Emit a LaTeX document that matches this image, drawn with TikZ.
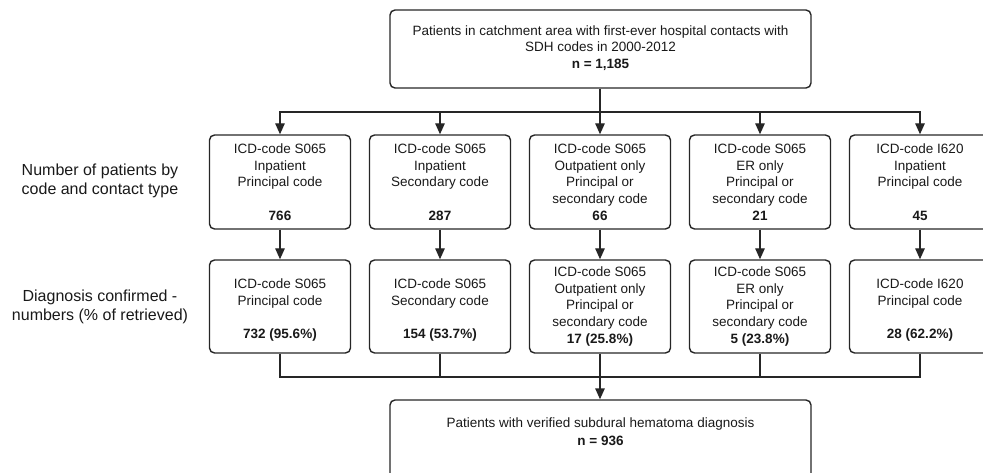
\documentclass[tikz,border=0pt]{standalone}
\usepackage{fontspec}
\setmainfont{Liberation Sans}
\usetikzlibrary{arrows.meta}
\begin{document}
\begin{tikzpicture}[x=1pt,y=-1pt,
  every node/.style={text=black!90},
  box/.style={draw=black!85, line width=1.4pt, rounded corners=5pt,
    minimum width=141pt, minimum height=94pt, align=center, inner sep=0pt,
    font=\fontsize{13.5}{16.7}\selectfont},
  bigbox/.style={draw=black!85, line width=1.4pt, rounded corners=5pt,
    minimum width=421pt, inner sep=0pt},
  btext/.style={align=center, inner sep=0pt, font=\fontsize{13.5}{16.7}\selectfont},
  side/.style={align=center, inner sep=0pt, font=\fontsize{16}{18.5}\selectfont},
  conn/.style={draw=black!85, line width=1.4pt},
  arr/.style={conn, -{Triangle[length=11pt,width=9.5pt]}}
]
\useasboundingbox (0,0) rectangle (983,473);

% top box
\node[bigbox, minimum height=78pt] (top) at (600.5,49) {};
\node[btext] (toptext) at (600.5,48) {Patients in catchment area with first-ever hospital contacts with\\SDH codes in 2000-2012\\\textbf{n = 1,185}};

% side labels
\node[side] (lab1) at (100,181) {Number of patients by\\code and contact type};
\node[side] (lab2) at (100,307) {Diagnosis confirmed -\\numbers (\% of retrieved)};

% row 1
\node[box] (a1) at (280,182) {ICD-code S065\\Inpatient\\Principal code\\~\\\textbf{766}};
\node[box] (a2) at (440,182) {ICD-code S065\\Inpatient\\Secondary code\\~\\\textbf{287}};
\node[box] (a3) at (600,182) {ICD-code S065\\Outpatient only\\Principal or\\secondary code\\\textbf{66}};
\node[box] (a4) at (760,182) {ICD-code S065\\ER only\\Principal or\\secondary code\\\textbf{21}};
\node[box] (a5) at (920,182) {ICD-code I620\\Inpatient\\Principal code\\~\\\textbf{45}};

% row 2
\node[box, minimum height=93pt] (b1) at (280,306.5) {~\\ICD-code S065\\Principal code\\~\\\textbf{732 (95.6\%)}};
\node[box, minimum height=93pt] (b2) at (440,306.5) {~\\ICD-code S065\\Secondary code\\~\\\textbf{154 (53.7\%)}};
\node[box, minimum height=93pt] (b3) at (600,306.5) {ICD-code S065\\Outpatient only\\Principal or\\secondary code\\\textbf{17 (25.8\%)}};
\node[box, minimum height=93pt] (b4) at (760,306.5) {ICD-code S065\\ER only\\Principal or\\secondary code\\\textbf{5 (23.8\%)}};
\node[box, minimum height=93pt] (b5) at (920,306.5) {~\\ICD-code I620\\Principal code\\~\\\textbf{28 (62.2\%)}};

% bottom box
\node[bigbox, minimum height=100pt] (bot) at (600.5,450) {};
\node[btext, font=\fontsize{13.5}{18}\selectfont] (bottext) at (600.5,432) {Patients with verified subdural hematoma diagnosis\\\textbf{n = 936}};

% connectors top
\coordinate (j1) at (600,112);
\draw[conn] (top.south -| j1) -- (j1);
\draw[arr] (j1) -| (a1);
\draw[arr] (j1) -| (a2);
\draw[arr] (j1) -- (a3);
\draw[arr] (j1) -| (a4);
\draw[arr] (j1) -| (a5);

% row1 -> row2
\draw[arr] (a1) -- (b1);
\draw[arr] (a2) -- (b2);
\draw[arr] (a3) -- (b3);
\draw[arr] (a4) -- (b4);
\draw[arr] (a5) -- (b5);

% row2 -> bottom
\coordinate (j2) at (600,377);
\draw[conn] (b1) |- (j2);
\draw[conn] (b2) |- (j2);
\draw[conn] (b4) |- (j2);
\draw[conn] (b5) |- (j2);
\draw[arr] (b3) -- (bot.north -| b3);
\end{tikzpicture}
\end{document}
